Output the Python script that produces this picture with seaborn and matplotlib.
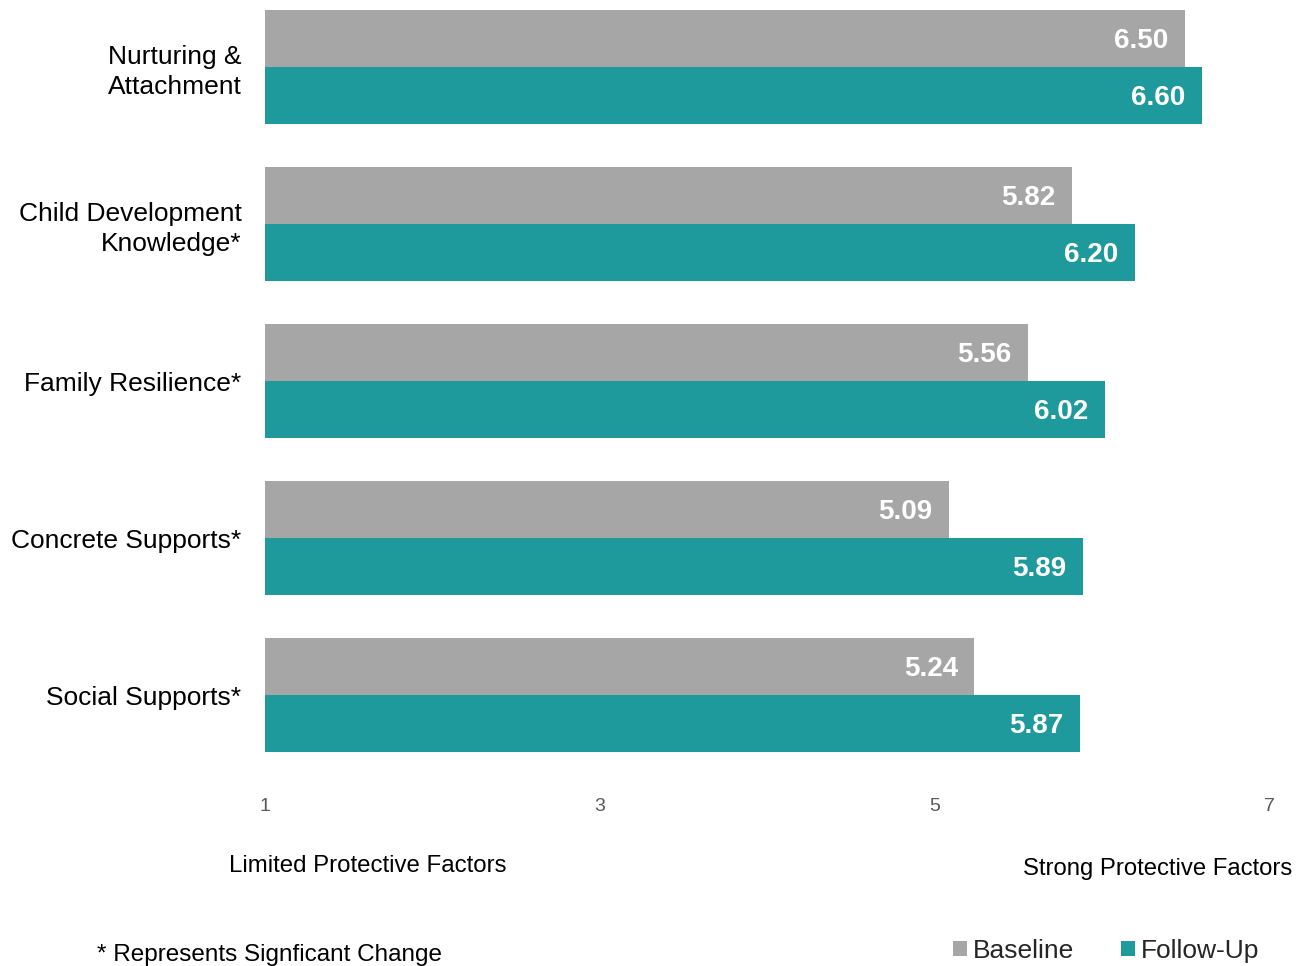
import matplotlib
matplotlib.use("Agg")
import matplotlib.pyplot as plt
import seaborn as sns
import pandas as pd
import numpy as np
from matplotlib.patches import Patch

categories = ["Nurturing &\nAttachment", "Child Development\nKnowledge*", "Family Resilience*",
              "Concrete Supports*", "Social Supports*"]
series_names = ["Baseline", "Follow-Up"]
baseline = [6.50, 5.82, 5.56, 5.09, 5.24]
followup = [6.60, 6.20, 6.02, 5.89, 5.87]
x_ticks = [1, 3, 5, 7]
colors = ["#A6A6A6", "#1E999C"]

sns.set_theme(style="white")
plt.rcParams['font.family'] = ['Liberation Sans', 'DejaVu Sans']

df = pd.DataFrame({
    "category": categories * 2,
    "series": [series_names[0]] * len(categories) + [series_names[1]] * len(categories),
    "value": baseline + followup,
})

fig = plt.figure(figsize=(13.05, 9.66), dpi=100)
ax = fig.add_axes([265/1305, (966-752)/966, (1269-265)/1305, 742/966])

sns.barplot(data=df, y="category", x="value", hue="series", orient="h",
            palette=colors, width=0.726, dodge=True, gap=0, ax=ax,
            saturation=1, legend=False, errorbar=None, linewidth=0)

ax.set_xlim(1, 7)
ax.set_ylim(len(categories) - 1 + 0.363, -0.363)
ax.set_xticks(x_ticks)
ax.set_xticklabels([str(t) for t in x_ticks], color="#595959", fontsize=14)
ax.tick_params(axis='x', length=0, pad=33)
ax.tick_params(axis='y', length=0, pad=17)
for lbl in ax.get_yticklabels():
    lbl.set_fontsize(19)
    lbl.set_color("black")
    lbl.set_horizontalalignment("right")
    lbl.set_multialignment("right")
    lbl.set_linespacing(1.3)
ax.set_xlabel("")
ax.set_ylabel("")
for s in ax.spines.values():
    s.set_visible(False)
ax.grid(False)

# value labels
for container, vals in zip(ax.containers, [baseline, followup]):
    for bar, v in zip(container, vals):
        yc = bar.get_y() + bar.get_height() / 2
        ax.annotate(f"{v:.2f}", xy=(v, yc), xytext=(-12, -2), textcoords="offset points",
                    ha="right", va="center", color="white", fontsize=20, fontweight="bold")

# bottom annotations
fig.text(229/1305, 1 - 866/966, "Limited Protective Factors", ha="left", va="center",
         fontsize=17.3, color="black")
fig.text(1292/1305, 1 - 869/966, "Strong Protective Factors", ha="right", va="center",
         fontsize=17.2, color="black")
fig.text(97/1305, 1 - 955/966, "* Represents Signficant Change", ha="left", va="center",
         fontsize=17.5, color="black")

# legend
handles = [Patch(facecolor=c, edgecolor='none') for c in colors]
leg = fig.legend(handles, series_names, loc="center right", bbox_to_anchor=(1259/1305, 1 - 951/966),
                 ncol=2, frameon=False, fontsize=19, handlelength=0.53, handleheight=0.53,
                 handletextpad=0.2, columnspacing=1.8, borderpad=0, borderaxespad=0)

fig.savefig("out.png", dpi=100)
